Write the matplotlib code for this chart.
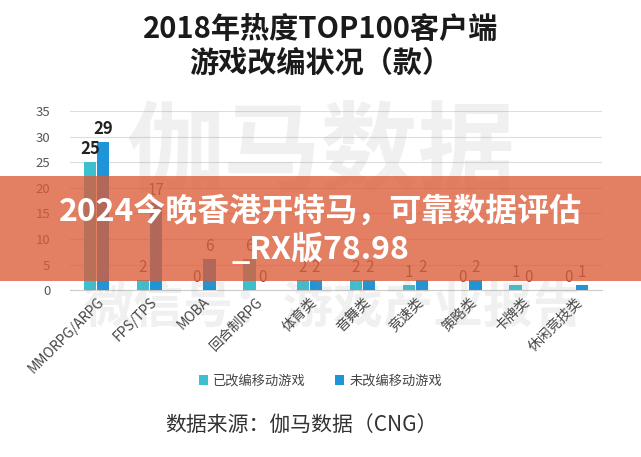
import numpy as np
import matplotlib; matplotlib.use("Agg")
import matplotlib.pyplot as plt

plt.rcParams["font.family"] = ["Noto Sans CJK SC", "DejaVu Sans"]

categories = ["MMORPG/ARPG", "FPS/TPS", "MOBA", "回合制RPG", "体育类",
              "音舞类", "竞速类", "策略类", "卡牌类", "休闲竞技类"]
adapted = [25, 2, 0, 6, 2, 2, 1, 0, 1, 0]
not_adapted = [29, 17, 6, 0, 2, 2, 2, 2, 0, 1]
series_names = ["已改编移动游戏", "未改编移动游戏"]
TEAL, BLUE = "#3DBFD0", "#1E95D9"

fig = plt.figure(figsize=(6.41, 4.57), dpi=100)
ax = fig.add_axes([0.109, 0.365, 0.83, 0.392])

x = np.arange(len(categories))
w = 0.23
b1 = ax.bar(x - w / 2 - 0.01, adapted, w, color=TEAL, zorder=3)
b2 = ax.bar(x + w / 2 + 0.01, not_adapted, w, color=BLUE, zorder=3)
for bars, vals in [(b1, adapted), (b2, not_adapted)]:
    for j, (b, v) in enumerate(zip(bars, vals)):
        ax.text(b.get_x() + b.get_width() / 2, v + 0.8, str(v), ha="center", va="bottom",
                fontsize=12 if j == 0 else 11, fontweight="bold" if j == 0 else "normal",
                color="#222222" if j == 0 else "#555555", zorder=4)

ax.set_xlim(-0.5, len(categories) - 0.5)
ax.set_ylim(0, 35)
ax.set_yticks(range(0, 36, 5))
ax.tick_params(axis="y", length=0, labelsize=9.5, labelcolor="#555555", pad=14)
ax.tick_params(axis="x", length=0, labelsize=10, labelcolor="#444444")
ax.set_xticks(x)
ax.set_xticklabels(categories, rotation=45, ha="right", rotation_mode="anchor")
ax.grid(axis="y", color="#dddddd", lw=0.8, zorder=0)
for s in ["top", "right", "left"]:
    ax.spines[s].set_visible(False)
ax.spines["bottom"].set_color("#cccccc")

# faint watermarks
fig.text(0.5, 0.66, "伽马数据", ha="center", va="center", fontsize=70, fontweight="bold",
         color="#888888", alpha=0.12, zorder=0)
fig.text(0.52, 0.325, "微信号：游戏产业报告", ha="center", va="center", fontsize=36, fontweight="bold",
         color="#888888", alpha=0.12)

fig.text(0.5, 0.937, "2018年热度TOP100客户端", ha="center", va="center", fontsize=21, fontweight="bold",
         color="#1a1a1a")
fig.text(0.5, 0.862, "游戏改编状况（款）", ha="center", va="center", fontsize=21, fontweight="bold",
         color="#1a1a1a")

leg = fig.legend([b1, b2], series_names, loc="center", bbox_to_anchor=(0.5, 0.166), ncol=2,
                 frameon=False, fontsize=9.5, handlelength=0.7, handleheight=0.7,
                 columnspacing=2.2, handletextpad=0.4)
for t in leg.get_texts():
    t.set_color("#444444")

fig.text(0.47, 0.07, "数据来源：伽马数据（CNG）", ha="center", va="center", fontsize=15, color="#333333")

# overlay banner
fig.patches.append(plt.Rectangle((0, 0.385), 1, 0.23, transform=fig.transFigure,
                                 facecolor="#DC5B36", alpha=0.78, zorder=10))
fig.text(0.5, 0.534, "2024今晚香港开特马，可靠数据评估", ha="center", va="center", fontsize=23,
         fontweight="bold", color="white", zorder=11)
fig.text(0.5, 0.453, "_RX版78.98", ha="center", va="center", fontsize=23,
         fontweight="bold", color="white", zorder=11)

fig.savefig("out.png", dpi=100)
